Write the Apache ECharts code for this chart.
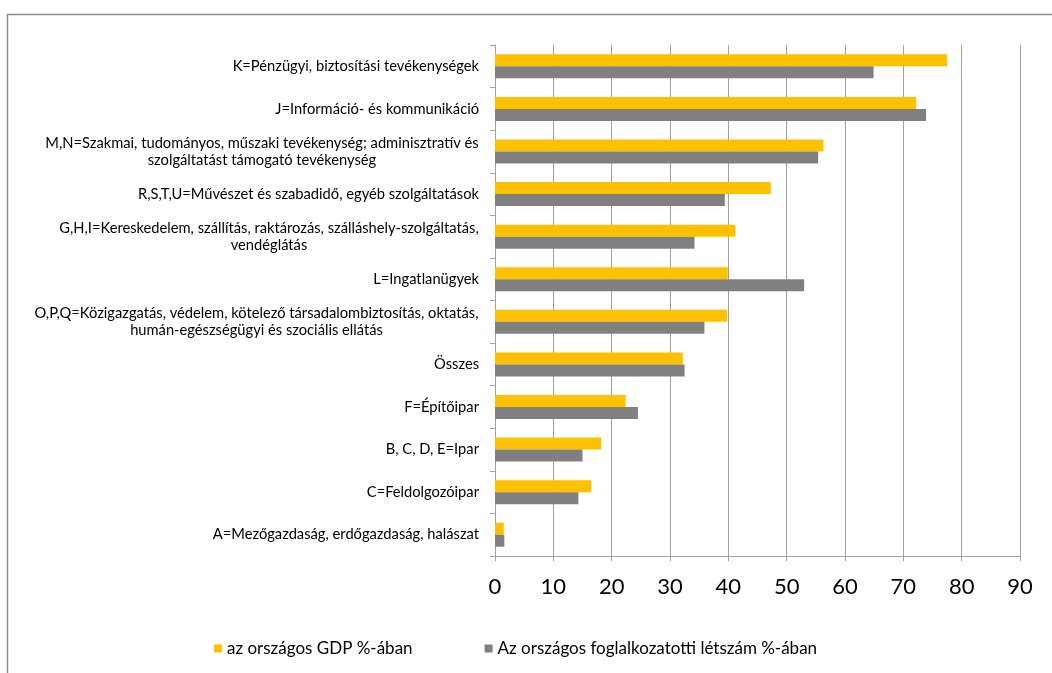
<!DOCTYPE html>
<html>
<head>
<meta charset="utf-8">
<script src="https://cdn.jsdelivr.net/npm/echarts@6/dist/echarts.min.js"></script>
<style>
  html, body { margin: 0; padding: 0; background: #ffffff; }
  #chart { width: 1052px; height: 673px; }
</style>
</head>
<body>
<div id="chart"></div>
<script>
// Sectors, listed top to bottom
const categories = [
  'K=Pénzügyi, biztosítási tevékenységek',
  'J=Információ- és kommunikáció',
  'M,N=Szakmai, tudományos, műszaki tevékenység; adminisztratív és\nszolgáltatást támogató tevékenység',
  'R,S,T,U=Művészet és szabadidő, egyéb szolgáltatások',
  'G,H,I=Kereskedelem, szállítás, raktározás, szálláshely-szolgáltatás,\nvendéglátás',
  'L=Ingatlanügyek',
  'O,P,Q=Közigazgatás, védelem, kötelező társadalombiztosítás, oktatás,\nhumán-egészségügyi és szociális ellátás',
  'Összes',
  'F=Építőipar',
  'B, C, D, E=Ipar',
  'C=Feldolgozóipar',
  'A=Mezőgazdaság, erdőgazdaság, halászat'
];

const gdpShare = [77.5, 72.2, 56.3, 47.3, 41.2, 39.9, 39.8, 32.2, 22.4, 18.2, 16.5, 1.5];
const employmentShare = [64.9, 73.9, 55.4, 39.4, 34.2, 53.0, 35.9, 32.5, 24.5, 15.0, 14.3, 1.6];

const seriesNames = ['az országos GDP %-ában', 'Az országos foglalkozatotti létszám %-ában'];
const xTicks = [0, 10, 20, 30, 40, 50, 60, 70, 80, 90];

const FONT = 'Lato';
const LABEL_SIZE = 14.7;

// Multi-line category labels: centre the lines on the widest one
const ctx = document.createElement('canvas').getContext('2d');
ctx.font = LABEL_SIZE + 'px ' + FONT;
const rich = {};
categories.forEach((c, i) => {
  const lines = c.split('\n');
  if (lines.length > 1) {
    const w = Math.max(...lines.map(l => ctx.measureText(l).width));
    rich['c' + i] = { width: Math.ceil(w), align: 'center', fontFamily: FONT, fontSize: LABEL_SIZE, lineHeight: 17, color: '#000' };
  }
});

const chart = echarts.init(document.getElementById('chart'));
chart.setOption({
  animation: false,
  backgroundColor: '#ffffff',
  graphic: [{
    type: 'rect',
    shape: { x: 7.5, y: 14.5, width: 1100, height: 700 },
    style: { fill: 'none', stroke: '#8c8c8c', lineWidth: 1.5 },
    silent: true
  }],
  grid: { left: 495, right: 32, top: 45, bottom: 117, containLabel: false },
  legend: {
    data: seriesNames,
    left: 209,
    top: 635,
    itemWidth: 8,
    itemHeight: 8,
    itemGap: 72,
    icon: 'rect',
    textStyle: { fontFamily: FONT, fontSize: 17, color: '#000' }
  },
  xAxis: {
    type: 'value',
    min: xTicks[0],
    max: xTicks[xTicks.length - 1],
    interval: 10,
    axisLine: { show: true, lineStyle: { color: '#a0a0a0', width: 1 } },
    axisTick: { show: true, length: 5, lineStyle: { color: '#a0a0a0' } },
    splitLine: { show: true, lineStyle: { color: '#a0a0a0', width: 1 } },
    axisLabel: { fontFamily: FONT, fontSize: 22, color: '#000', margin: 20 }
  },
  yAxis: {
    type: 'category',
    inverse: true,
    data: categories,
    axisLine: { show: true, lineStyle: { color: '#a0a0a0', width: 1 } },
    axisTick: { show: true, length: 5, lineStyle: { color: '#a0a0a0' } },
    axisLabel: {
      margin: 16,
      fontFamily: FONT,
      fontSize: LABEL_SIZE,
      lineHeight: 17,
      color: '#000',
      rich: rich,
      formatter: (value, index) => {
        const lines = value.split('\n');
        if (lines.length === 1) return value;
        return lines.map(l => '{c' + index + '|' + l + '}').join('\n');
      }
    }
  },
  series: [
    {
      name: seriesNames[0],
      type: 'bar',
      data: gdpShare,
      barWidth: 12,
      barGap: '0%',
      itemStyle: { color: '#FFC000' }
    },
    {
      name: seriesNames[1],
      type: 'bar',
      data: employmentShare,
      barWidth: 12,
      barGap: '0%',
      itemStyle: { color: '#808080' }
    }
  ]
});
</script>
</body>
</html>
